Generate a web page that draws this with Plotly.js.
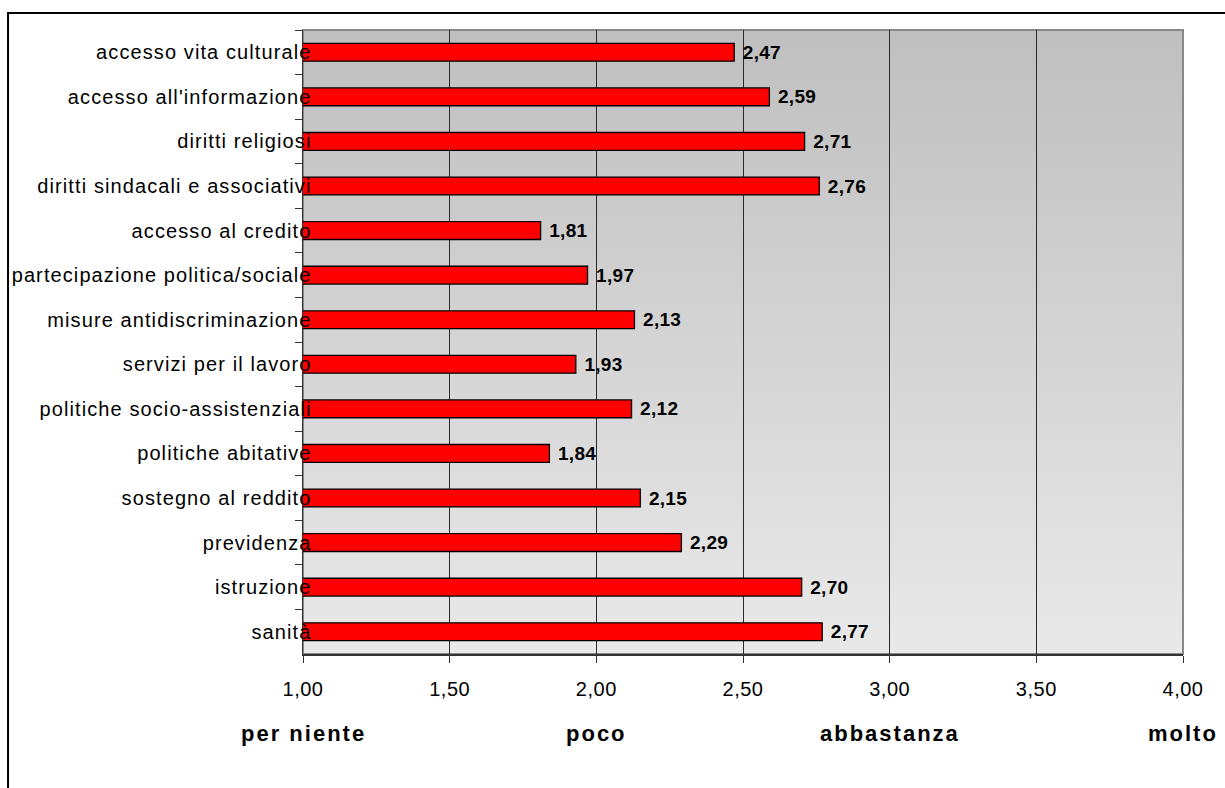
<!DOCTYPE html>
<html>
<head>
<meta charset="utf-8">
<script src="https://cdn.plot.ly/plotly-3.0.1.min.js"></script>
<style>
  html, body { margin: 0; padding: 0; background: #ffffff; }
  #chart { width: 1225px; height: 788px; }
  .ytick text { letter-spacing: 1.1px; }
  .xtick text { letter-spacing: 0.5px; }
  .bartext { letter-spacing: 0.3px; }
  .annotation-text { letter-spacing: 2px; }
</style>
</head>
<body>
<div id="chart"></div>
<script>
const categories = [
  "accesso vita culturale",
  "accesso all'informazione",
  "diritti religiosi",
  "diritti sindacali e associativi",
  "accesso al credito",
  "partecipazione politica/sociale",
  "misure antidiscriminazione",
  "servizi per il lavoro",
  "politiche socio-assistenziali",
  "politiche abitative",
  "sostegno al reddito",
  "previdenza",
  "istruzione",
  "sanità"
];
const values = [2.47, 2.59, 2.71, 2.76, 1.81, 1.97, 2.13, 1.93, 2.12, 1.84, 2.15, 2.29, 2.70, 2.77];
const xTickVals = [1.0, 1.5, 2.0, 2.5, 3.0, 3.5, 4.0];
const scaleLabels = ["per niente", "poco", "abbastanza", "molto"];
const scalePositions = [1, 2, 3, 4];

const gradSvg = '<svg xmlns="http://www.w3.org/2000/svg" width="10" height="100" preserveAspectRatio="none">' +
  '<defs><linearGradient id="g" x1="0" y1="0" x2="0" y2="1">' +
  '<stop offset="0" stop-color="#bfbfbf"/><stop offset="1" stop-color="#e9e9e9"/>' +
  '</linearGradient></defs><rect width="10" height="100" fill="url(#g)"/></svg>';
const gradUri = 'data:image/svg+xml;base64,' + btoa(gradSvg);

const trace = {
  type: 'bar',
  orientation: 'h',
  y: categories,
  x: values,
  marker: { color: '#ff0000', line: { color: '#000000', width: 1.3 } },
  texttemplate: ' %{x:.2f}',
  textposition: 'outside',
  textfont: { family: 'Liberation Sans, Arial, sans-serif', size: 19, color: '#000000', weight: 'bold' },
  constraintext: 'none',
  cliponaxis: false,
  hoverinfo: 'skip'
};

const layout = {
  width: 1225,
  height: 788,
  margin: { l: 303, r: 42, t: 30, b: 134 },
  paper_bgcolor: '#ffffff',
  plot_bgcolor: 'rgba(0,0,0,0)',
  separators: ',.',
  bargap: 0.6,
  showlegend: false,
  font: { family: 'Liberation Sans, Arial, sans-serif', size: 20, color: '#000000' },
  xaxis: {
    range: [1, 4],
    tickvals: xTickVals,
    tickformat: '.2f',
    showgrid: true,
    gridcolor: '#2a2a2a',
    gridwidth: 1,
    zeroline: false,
    showline: true,
    linecolor: '#333333',
    linewidth: 1.5,
    ticks: 'outside',
    ticklen: 7,
    tickcolor: '#333333',
    tickfont: { size: 20, color: '#000000' },
    ticklabelstandoff: 9,
    fixedrange: true
  },
  yaxis: {
    type: 'category',
    autorange: 'reversed',
    showgrid: false,
    zeroline: false,
    showline: true,
    linecolor: '#333333',
    linewidth: 1.5,
    ticks: 'outside',
    tickson: 'boundaries',
    ticklen: 7,
    tickcolor: '#333333',
    tickfont: { size: 20, color: '#000000' },
    ticklabelstandoff: -14,
    fixedrange: true
  },
  images: [{
    source: gradUri,
    xref: 'paper', yref: 'paper',
    x: 0, y: 1, sizex: 1, sizey: 1,
    xanchor: 'left', yanchor: 'top',
    sizing: 'stretch',
    layer: 'below'
  }],
  shapes: [
    { type: 'rect', xref: 'paper', yref: 'paper', x0: 0, x1: 1, y0: 0, y1: 1,
      line: { color: '#888888', width: 2 }, fillcolor: 'rgba(0,0,0,0)', layer: 'below' },
    { type: 'rect', xref: 'paper', yref: 'paper', x0: -0.3352, x1: 1.06, y0: -0.24, y1: 1.0272,
      line: { color: '#000000', width: 2 }, fillcolor: 'rgba(0,0,0,0)' }
  ],
  annotations: scaleLabels.map((t, i) => ({
    text: t,
    x: scalePositions[i],
    xref: 'x',
    y: -0.127,
    yref: 'paper',
    xanchor: 'center',
    yanchor: 'middle',
    showarrow: false,
    font: { family: 'Liberation Sans, Arial, sans-serif', size: 22, color: '#000000', weight: 'bold' }
  }))
};

Plotly.newPlot('chart', [trace], layout, { displayModeBar: false, staticPlot: true });
</script>
</body>
</html>
